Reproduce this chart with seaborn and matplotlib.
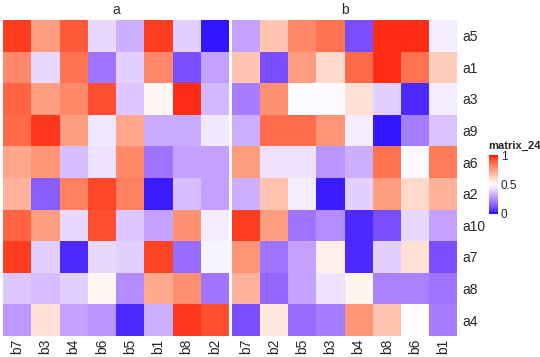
import numpy as np
import pandas as pd
import seaborn as sns
import matplotlib.pyplot as plt
from matplotlib.colors import ListedColormap

rows = ["a5", "a1", "a3", "a9", "a6", "a2", "a10", "a7", "a8", "a4"]
cols_a = ["b7", "b3", "b4", "b6", "b5", "b1", "b8", "b2"]
cols_b = ["b7", "b2", "b5", "b3", "b4", "b8", "b6", "b1"]

vals_a = [
    [0.95, 0.75, 0.90, 0.42, 0.33, 0.95, 0.40, 0.02],
    [0.80, 0.42, 0.85, 0.20, 0.40, 0.80, 0.12, 0.30],
    [0.88, 0.75, 0.80, 0.92, 0.38, 0.52, 0.97, 0.35],
    [0.87, 0.96, 0.75, 0.45, 0.73, 0.32, 0.32, 0.45],
    [0.73, 0.77, 0.36, 0.44, 0.80, 0.20, 0.30, 0.30],
    [0.70, 0.15, 0.82, 0.93, 0.82, 0.03, 0.36, 0.30],
    [0.88, 0.75, 0.42, 0.92, 0.38, 0.30, 0.78, 0.46],
    [0.95, 0.40, 0.05, 0.42, 0.40, 0.94, 0.18, 0.48],
    [0.38, 0.36, 0.40, 0.52, 0.25, 0.72, 0.78, 0.20],
    [0.28, 0.58, 0.30, 0.27, 0.05, 0.33, 0.96, 0.92],
]
vals_b = [
    [0.30, 0.65, 0.80, 0.85, 0.12, 0.97, 0.97, 0.46],
    [0.65, 0.12, 0.75, 0.60, 0.87, 0.97, 0.85, 0.63],
    [0.22, 0.78, 0.49, 0.49, 0.58, 0.40, 0.05, 0.46],
    [0.33, 0.86, 0.86, 0.77, 0.46, 0.02, 0.22, 0.37],
    [0.75, 0.44, 0.44, 0.27, 0.33, 0.85, 0.49, 0.83],
    [0.33, 0.66, 0.46, 0.03, 0.40, 0.75, 0.60, 0.70],
    [0.95, 0.75, 0.20, 0.25, 0.05, 0.12, 0.42, 0.30],
    [0.77, 0.20, 0.30, 0.54, 0.05, 0.40, 0.58, 0.12],
    [0.70, 0.17, 0.30, 0.44, 0.53, 0.23, 0.23, 0.20],
    [0.12, 0.56, 0.18, 0.22, 0.77, 0.66, 0.50, 0.22],
]


# blue - white - red ramp interpolated in LAB space (like colorRamp2)
def srgb_to_lab(c):
    c = np.asarray(c, float)
    lin = np.where(c <= 0.04045, c / 12.92, ((c + 0.055) / 1.055) ** 2.4)
    m = np.array([[0.4124, 0.3576, 0.1805],
                  [0.2126, 0.7152, 0.0722],
                  [0.0193, 0.1192, 0.9505]])
    xyz = m @ lin / np.array([0.95047, 1.0, 1.08883])
    f = np.where(xyz > 0.008856, np.cbrt(xyz), 7.787 * xyz + 16 / 116)
    return np.array([116 * f[1] - 16, 500 * (f[0] - f[1]), 200 * (f[1] - f[2])])


def lab_to_srgb(lab):
    L, a, b = lab
    fy = (L + 16) / 116
    fx = fy + a / 500
    fz = fy - b / 200
    f = np.array([fx, fy, fz])
    xyz = np.where(f ** 3 > 0.008856, f ** 3, (f - 16 / 116) / 7.787)
    xyz = xyz * np.array([0.95047, 1.0, 1.08883])
    m = np.array([[3.2406, -1.5372, -0.4986],
                  [-0.9689, 1.8758, 0.0415],
                  [0.0557, -0.2040, 1.0570]])
    lin = m @ xyz
    c = np.where(lin <= 0.0031308, 12.92 * lin, 1.055 * np.clip(lin, 0, None) ** (1 / 2.4) - 0.055)
    return np.clip(c, 0, 1)


blue, white, red = srgb_to_lab([0, 0, 1]), srgb_to_lab([1, 1, 1]), srgb_to_lab([1, 0, 0])
ramp = []
for t in np.linspace(0, 1, 256):
    if t < 0.5:
        ramp.append(lab_to_srgb(blue + (white - blue) * t * 2))
    else:
        ramp.append(lab_to_srgb(white + (red - white) * (t - 0.5) * 2))
cmap = ListedColormap(ramp)

sns.set_theme(style="white")
plt.rcParams['font.family'] = ['Liberation Sans', 'DejaVu Sans']

df_a = pd.DataFrame(vals_a, index=rows, columns=cols_a)
df_b = pd.DataFrame(vals_b, index=rows, columns=cols_b)

W, H = 540, 357
fig = plt.figure(figsize=(W / 100, H / 100), dpi=100)
ax_a = fig.add_axes([3 / W, (H - 336) / H, 226 / W, 316 / H])
ax_b = fig.add_axes([232 / W, (H - 336) / H, 225 / W, 316 / H])
cax = fig.add_axes([489 / W, (H - 214) / H, 9 / W, 59 / H])

sns.heatmap(df_a, ax=ax_a, cmap=cmap, vmin=0, vmax=1, cbar=False)
sns.heatmap(df_b, ax=ax_b, cmap=cmap, vmin=0, vmax=1, cbar_ax=cax)

for ax, title in [(ax_a, "a"), (ax_b, "b")]:
    ax.set_title(title, fontsize=10, pad=4)
    ax.tick_params(axis="x", rotation=90, labelsize=10, length=0, pad=2)
    ax.set_xlabel("")
    ax.set_ylabel("")

ax_a.set_yticks([])
ax_b.yaxis.tick_right()
ax_b.tick_params(axis="y", rotation=0, labelsize=10, length=0, pad=4)

cax.set_yticks([0, 0.5, 1])
cax.set_yticklabels(["0", "0.5", "1"])
cax.tick_params(labelsize=8.5, length=0, pad=2)
fig.text(488 / W, 1 - 146 / H, "matrix_24", fontsize=8, fontweight="bold",
         ha="left", va="center")

fig.savefig("out.png", dpi=100)
